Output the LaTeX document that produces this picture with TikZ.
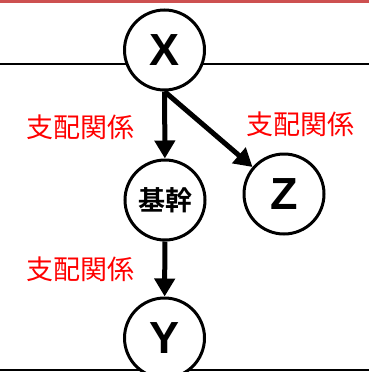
\documentclass[tikz,border=0pt]{standalone}
\usepackage{fontspec}
\setmainfont{Liberation Sans}
\newfontfamily\jpfont{Noto Sans CJK JP}[BoldFont={Noto Sans CJK JP Bold}]
\usetikzlibrary{arrows.meta,positioning}
\definecolor{topred}{RGB}{205,80,80}

\begin{document}
\begin{tikzpicture}[x=1pt, y=-1pt,
    var/.style={circle, draw, line width=3pt, fill=white, minimum size=80pt, inner sep=0pt},
    rel/.style={text=red, font=\jpfont\fontsize{27}{30}\selectfont, inner sep=0pt},
    dom/.style={-{Triangle[width=20pt,length=18pt]}, line width=5pt}]
    \clip (0,0) rectangle (369,372);
    % frame lines
    \draw[topred, line width=3pt] (0,1) -- (369,1);
    \draw[line width=2pt] (0,64) -- (369,64);
    \draw[line width=2pt] (0,370) -- (369,370);
    % variables
    \node (X) at (164.5,50) [var] {\fontsize{45}{45}\selectfont\bfseries X};
    \node (base) at (165,200) [var] {\jpfont\fontsize{27}{30}\selectfont\bfseries 基幹};
    \node (Z) at (284,194) [var] {\fontsize{45}{45}\selectfont\bfseries Z};
    \node (Y) at (164.5,338) [var] {\fontsize{45}{45}\selectfont\bfseries Y};
    % relations
    \draw[dom] (X) -- (base);
    \draw[dom] (X.south) -- (Z);
    \draw[dom] (base) -- (Y);
    \node (relXB) at (80,127.5) [rel] {支配関係};
    \node (relXZ) at (300,124.5) [rel] {支配関係};
    \node (relBY) at (80,269.5) [rel] {支配関係};
  \end{tikzpicture}
\end{document}
